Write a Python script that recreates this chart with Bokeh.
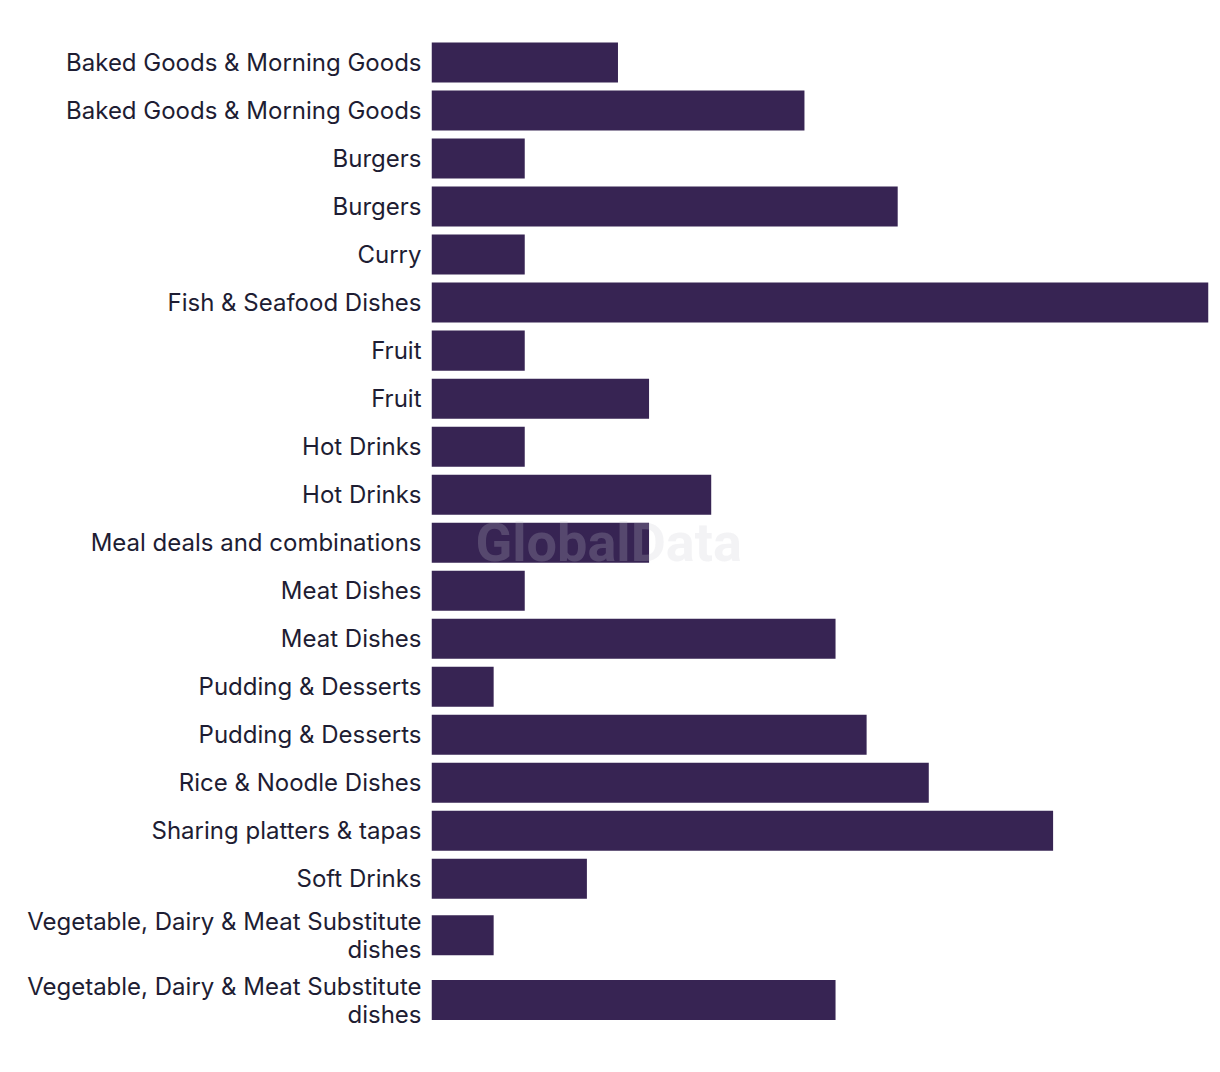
import numpy as np
from bokeh.plotting import figure
from bokeh.models import FixedTicker, Label, ColumnDataSource, Range1d
from bokeh.embed import file_html
from bokeh.resources import INLINE

categories = [
    "Baked Goods & Morning Goods", "Baked Goods & Morning Goods",
    "Burgers", "Burgers", "Curry", "Fish & Seafood Dishes",
    "Fruit", "Fruit", "Hot Drinks", "Hot Drinks",
    "Meal deals and combinations", "Meat Dishes", "Meat Dishes",
    "Pudding & Desserts", "Pudding & Desserts", "Rice & Noodle Dishes",
    "Sharing platters & tapas", "Soft Drinks",
    "Vegetable, Dairy & Meat Substitute\ndishes",
    "Vegetable, Dairy & Meat Substitute\ndishes",
]
values = [6, 12, 3, 15, 3, 25, 3, 7, 3, 9, 7, 3, 13, 2, 14, 16, 20, 5, 2, 13]

# row layout: two-line labels get a taller row
sizes = [1 + 0.35 * c.count("\n") for c in categories]
centers = []
pos = 0.0
for i, s in enumerate(sizes):
    if i == 0:
        pos = s / 2
    else:
        pos += (sizes[i - 1] + s) / 2
    centers.append(pos)
total = centers[-1] + sizes[-1] / 2

src = ColumnDataSource(dict(y=centers, v=values))

p = figure(width=1220, height=1072, output_backend="svg", toolbar_location=None,
           x_range=Range1d(0, 25), y_range=Range1d(total, 0),
           min_border_left=431, min_border_right=12, min_border_top=38,
           min_border_bottom=1072 - 38 - int(round(total * 48)))
p.hbar(y="y", right="v", left=0, height=40 / 48, source=src,
       fill_color="#372453", line_color=None)

p.xaxis.visible = False
p.xgrid.visible = False
p.ygrid.visible = False
p.outline_line_color = None
ax = p.yaxis[0]
ax.ticker = FixedTicker(ticks=centers)
ax.major_label_overrides = {c: lab for c, lab in zip(centers, categories)}
ax.axis_line_color = None
ax.major_tick_line_color = None
ax.minor_tick_line_color = None
ax.major_label_standoff = 4
ax.major_label_text_font = "Inter"
ax.major_label_text_font_size = "24px"
ax.major_label_text_color = "#1e1d33"
ax.major_label_text_line_height = 0.96

wm = Label(x=5.7, y=centers[10], text="GlobalData", text_align="center",
           text_baseline="middle", text_font="Roboto", text_font_style="bold",
           text_font_size="54px", text_color="#c8c8d0", text_alpha=0.22)
p.add_layout(wm)

open("out.html", "w").write(file_html(p, INLINE))
